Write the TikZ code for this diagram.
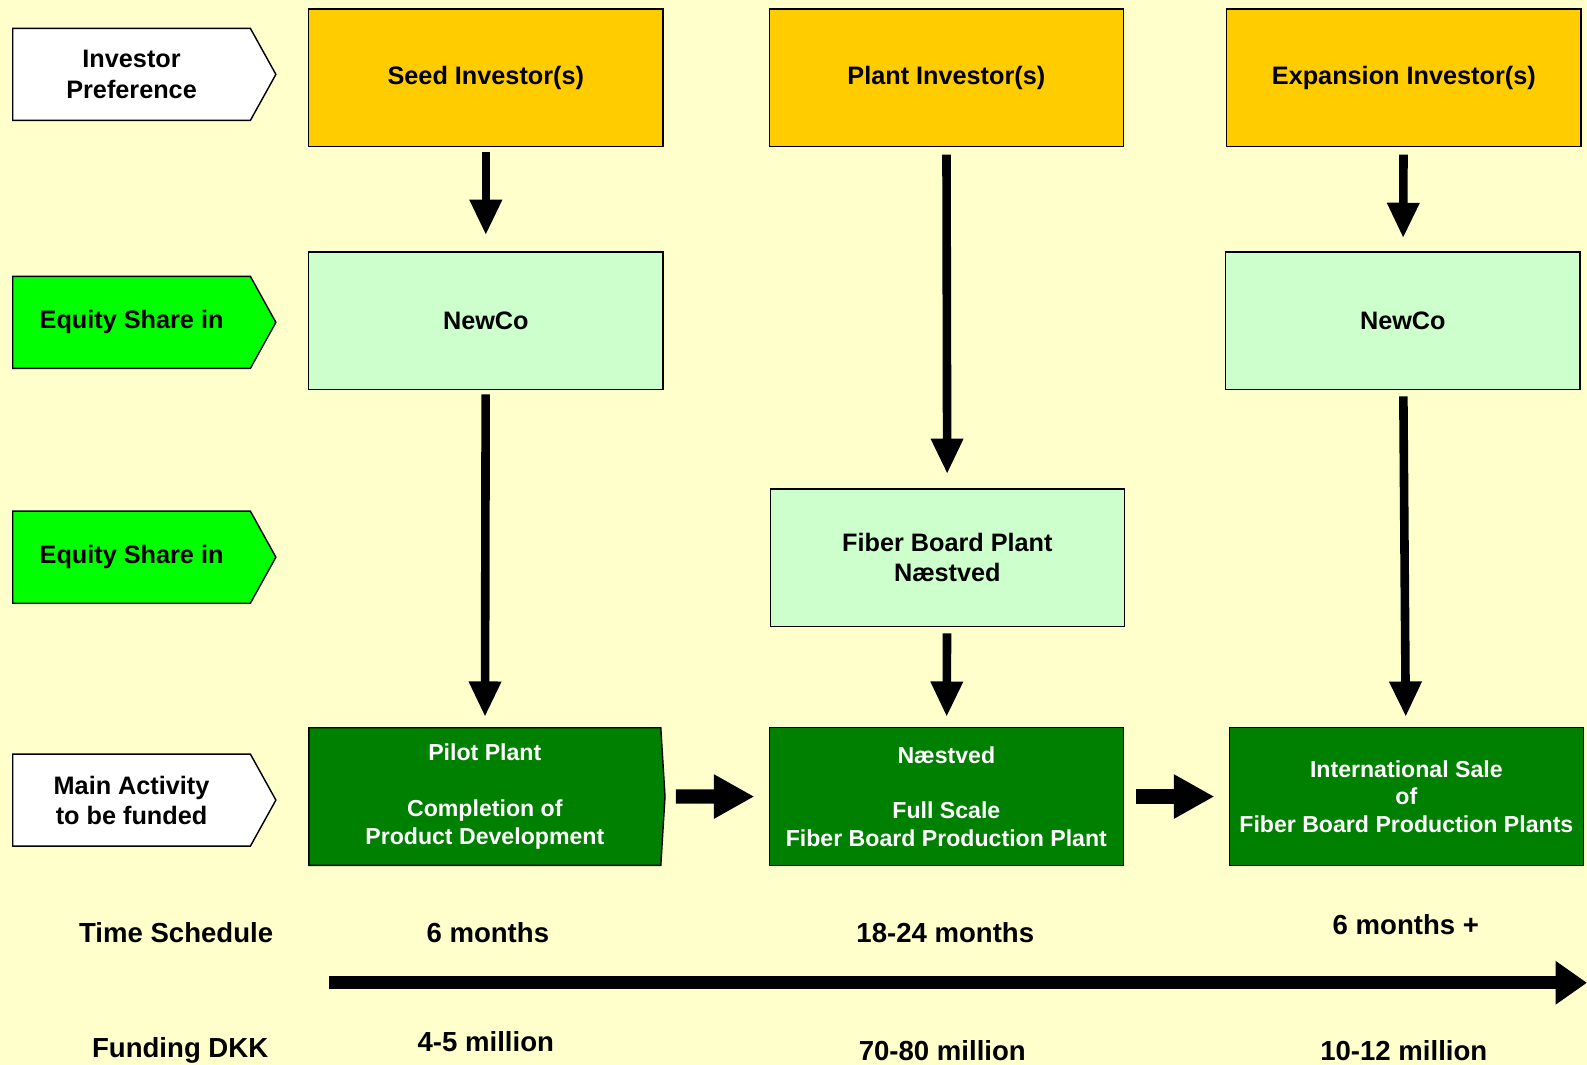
\documentclass[tikz,border=0pt]{standalone}
\usepackage{fontspec}
\setmainfont{Liberation Sans}
\usetikzlibrary{arrows.meta,shapes.symbols}
\definecolor{bgyellow}{HTML}{FFFFCC}
\definecolor{invyellow}{HTML}{FFCC00}
\definecolor{palegreen}{HTML}{CCFFCC}
\definecolor{brightgreen}{HTML}{00FF00}
\definecolor{darkgreen}{HTML}{008000}
\begin{document}
\begin{tikzpicture}[x = 0.02cm, y = -0.02cm,
    rowlabel/.style = {shape = signal, signal to = east, signal pointer angle = 122, draw, line width = 0.8pt,
        minimum width = 5.2cm, minimum height = 1.82cm, inner sep = 0pt, align = center,
        font = \fontsize{14.2}{17}\selectfont\bfseries},
    box/.style = {shape = rectangle, draw, line width = 0.8pt, minimum width = 7cm, minimum height = 2.72cm,
        align = center, font = \fontsize{14.2}{17}\selectfont\bfseries},
    activity/.style = {box, fill = darkgreen, text = white, font = \fontsize{13}{15.6}\selectfont\bfseries},
    downarrow/.style = {line width = 0.17cm, -{Triangle[width = 0.6cm, length = 0.7cm]}},
    rightarrow/.style = {line width = 0.28cm, -{Triangle[width = 0.82cm, length = 0.8cm]}},
    plain/.style = {font = \fontsize{15.5}{18.6}\selectfont\bfseries}]
    \useasboundingbox (0,0) rectangle (1568,1052);
    \fill[bgyellow] (0,0) rectangle (1568,1052);

    \node[rowlabel, fill = white] (pref) at (130,73.5) {Investor\\Preference};
    \node[rowlabel, fill = brightgreen] (equitya) at (130,318.5) {Equity Share in};
    \node[rowlabel, fill = brightgreen] (equityb) at (130,550.5) {Equity Share in};
    \node[rowlabel, fill = white] (mainact) at (130,790.5) {Main Activity\\to be funded};

    \node[box, fill = invyellow] (seed) at (480,77) {Seed Investor(s)};
    \node[box, fill = invyellow] (plant) at (935,77) {Plant Investor(s)};
    \node[box, fill = invyellow] (expansion) at (1387,77) {Expansion Investor(s)};
    \node[box, fill = palegreen] (newcoa) at (480,317) {NewCo};
    \node[box, fill = palegreen] (newcob) at (1386,317) {NewCo};
    \node[box, fill = palegreen] (fiber) at (936,551) {Fiber Board Plant\\Næstved};
    \node[activity, shape = signal, signal to = east, signal pointer angle = 173, minimum width = 7.04cm]
        (pilot) at (479,787) {Pilot Plant\\~\\Completion of\\Product Development};
    \node[activity] (naestved) at (935,787) {Næstved\\~\\Full Scale\\Fiber Board Production Plant};
    \node[activity] (intl) at (1389.5,787) {International Sale\\of\\Fiber Board Production Plants};

    \draw[downarrow, shorten < = 0.08cm, shorten > = 0.32cm] (seed) -- (newcoa);
    \draw[downarrow, shorten < = 0.08cm, shorten > = 0.2cm] (newcoa) -- (pilot);
    \draw[downarrow, shorten < = 0.14cm, shorten > = 0.28cm] (plant) -- (fiber);
    \draw[downarrow, shorten < = 0.12cm, shorten > = 0.2cm] (fiber) -- (naestved);
    \draw[downarrow, shorten < = 0.14cm, shorten > = 0.26cm] (expansion) -- (newcob);
    \draw[downarrow, shorten < = 0.12cm, shorten > = 0.2cm] (newcob) -- (intl);
    \draw[rightarrow, shorten < = 0.2cm, shorten > = 0.28cm] (pilot) -- (naestved);
    \draw[rightarrow, shorten < = 0.24cm, shorten > = 0.28cm] (naestved) -- (intl);

    \node[plain] (time) at (174,921) {Time Schedule};
    \node[plain] (timea) at (482,921) {6 months};
    \node[plain] (timeb) at (934,921) {18-24 months};
    \node[plain] (timec) at (1389,914) {6 months +};

    \coordinate (tstart) at (325,971);
    \coordinate (tend) at (1568,971);
    \draw[line width = 0.26cm, -{Triangle[width = 0.82cm, length = 0.62cm]}] (tstart) -- (tend);

    \node[plain] (funding) at (178,1038) {Funding DKK};
    \node[plain] (funda) at (480,1029) {4-5 million};
    \node[plain] (fundb) at (931,1038) {70-80 million};
    \node[plain] (fundc) at (1387,1038) {10-12 million};
\end{tikzpicture}
\end{document}
